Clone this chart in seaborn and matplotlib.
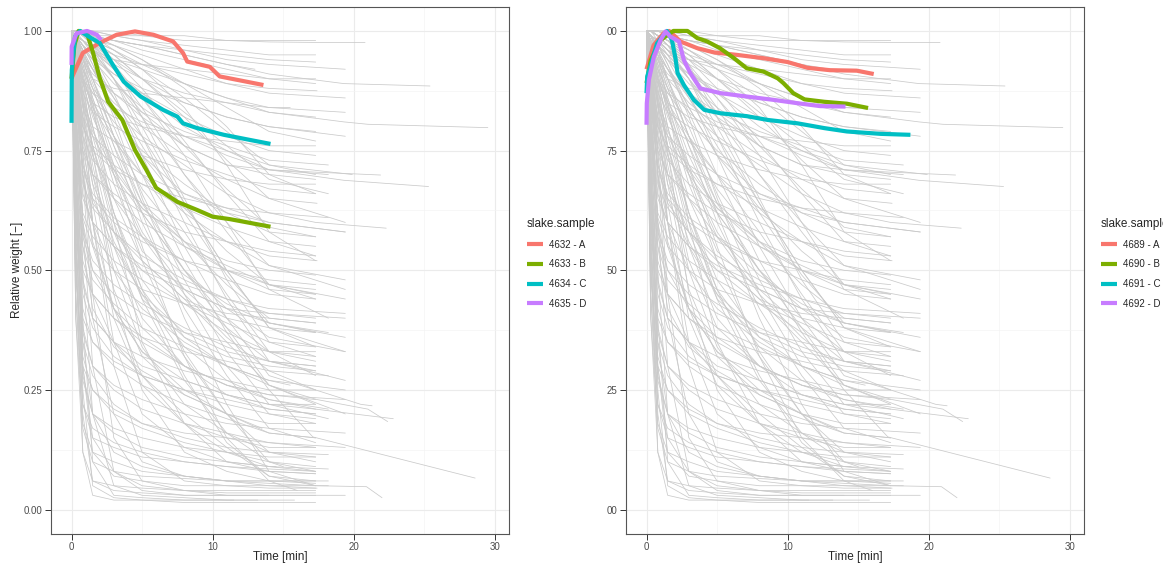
import pandas as pd
import seaborn as sns
import matplotlib.pyplot as plt
from matplotlib.lines import Line2D
from matplotlib.ticker import MultipleLocator

sns.set_theme(style="white")
plt.rcParams['font.family'] = ['Liberation Sans', 'DejaVu Sans']

# background curves (all samples): weights at the grid times, then end time and end weight
gray_t = [0, 0.3, 0.8, 1.5, 3, 5, 8, 11, 14]
gray_rows = [
    [1.0, 0.55, 0.12, 0.03, 0.02, 0.02, 0.015, 0.015, 0.015, 17.3, 0.015],
    [1.0, 0.7, 0.25, 0.05, 0.025, 0.02, 0.02, 0.02, 0.02, 13.2, 0.02],
    [1.0, 0.8, 0.4, 0.1, 0.03, 0.025, 0.02, 0.02, 0.02, 15.8, 0.02],
    [1.0, 0.9, 0.6, 0.3, 0.08, 0.04, 0.03, 0.03, 0.03, 17.3, 0.03],
    [1.0, 0.85, 0.5, 0.2, 0.05, 0.03, 0.025, 0.02, 0.02, 11.5, 0.02],
    [1.0, 0.95, 0.75, 0.45, 0.15, 0.06, 0.04, 0.035, 0.035, 17.3, 0.035],
    [1.0, 0.97, 0.85, 0.6, 0.3, 0.12, 0.06, 0.05, 0.045, 17.4, 0.045],
    [1.0, 0.6, 0.2, 0.06, 0.04, 0.035, 0.03, 0.03, 0.03, 19.4, 0.03],
    [1.0, 0.98, 0.9, 0.75, 0.45, 0.25, 0.12, 0.08, 0.06, 17.3, 0.06],
    [1.0, 0.99, 0.95, 0.85, 0.6, 0.35, 0.18, 0.1, 0.08, 17.3, 0.075],
    [1.0, 0.75, 0.3, 0.12, 0.07, 0.06, 0.05, 0.05, 0.05, 18.2, 0.05],
    [1.0, 0.5, 0.3, 0.25, 0.2, 0.17, 0.14, 0.12, 0.1, 17.3, 0.09],
    [1.0, 0.6, 0.4, 0.35, 0.3, 0.26, 0.22, 0.19, 0.16, 17.3, 0.15],
    [1.0, 0.7, 0.5, 0.45, 0.4, 0.35, 0.3, 0.26, 0.23, 18.2, 0.21],
    [1.0, 0.75, 0.58, 0.52, 0.47, 0.43, 0.38, 0.34, 0.31, 17.3, 0.3],
    [1.0, 0.8, 0.65, 0.6, 0.55, 0.5, 0.46, 0.42, 0.39, 19.4, 0.36],
    [1.0, 0.85, 0.72, 0.66, 0.61, 0.57, 0.52, 0.48, 0.45, 17.3, 0.44],
    [1.0, 0.88, 0.78, 0.73, 0.68, 0.64, 0.6, 0.56, 0.53, 17.4, 0.52],
    [1.0, 0.9, 0.82, 0.78, 0.74, 0.7, 0.66, 0.63, 0.6, 19.4, 0.58],
    [1.0, 0.93, 0.87, 0.83, 0.8, 0.77, 0.73, 0.7, 0.67, 17.3, 0.66],
    [1.0, 0.95, 0.9, 0.87, 0.84, 0.81, 0.78, 0.75, 0.72, 19.9, 0.7],
    [1.0, 0.55, 0.35, 0.28, 0.22, 0.18, 0.15, 0.13, 0.12, 18.2, 0.115],
    [1.0, 0.65, 0.45, 0.38, 0.32, 0.28, 0.25, 0.22, 0.2, 17.3, 0.19],
    [1.0, 0.72, 0.55, 0.48, 0.43, 0.38, 0.34, 0.3, 0.27, 15.5, 0.26],
    [1.0, 0.78, 0.62, 0.57, 0.52, 0.48, 0.43, 0.39, 0.35, 17.3, 0.34],
    [1.0, 0.82, 0.68, 0.63, 0.58, 0.53, 0.48, 0.44, 0.41, 17.3, 0.4],
    [1.0, 0.86, 0.75, 0.7, 0.65, 0.6, 0.55, 0.51, 0.47, 19.4, 0.44],
    [1.0, 0.89, 0.8, 0.76, 0.72, 0.68, 0.63, 0.59, 0.56, 17.3, 0.55],
    [1.0, 0.45, 0.22, 0.17, 0.14, 0.12, 0.1, 0.09, 0.08, 17.3, 0.075],
    [1.0, 0.5, 0.28, 0.2, 0.16, 0.13, 0.11, 0.1, 0.09, 14.5, 0.09],
    [1.0, 0.62, 0.38, 0.3, 0.25, 0.21, 0.18, 0.16, 0.14, 19.4, 0.13],
    [1.0, 0.68, 0.48, 0.4, 0.35, 0.3, 0.27, 0.24, 0.22, 17.3, 0.22],
    [1.0, 0.8, 0.6, 0.5, 0.42, 0.36, 0.3, 0.26, 0.24, 17.3, 0.23],
    [1.0, 0.85, 0.7, 0.6, 0.5, 0.42, 0.35, 0.3, 0.27, 19.4, 0.25],
    [1.0, 0.9, 0.78, 0.68, 0.58, 0.5, 0.43, 0.37, 0.33, 17.3, 0.32],
    [1.0, 0.92, 0.82, 0.74, 0.65, 0.57, 0.49, 0.43, 0.39, 18.2, 0.37],
    [1.0, 0.94, 0.86, 0.79, 0.71, 0.63, 0.56, 0.5, 0.46, 17.3, 0.45],
    [1.0, 0.96, 0.9, 0.84, 0.77, 0.7, 0.62, 0.56, 0.51, 19.4, 0.48],
    [1.0, 0.97, 0.92, 0.87, 0.81, 0.75, 0.68, 0.62, 0.58, 17.3, 0.57],
    [1.0, 0.98, 0.94, 0.9, 0.85, 0.8, 0.74, 0.69, 0.65, 17.4, 0.64],
    [1.0, 0.4, 0.18, 0.12, 0.1, 0.08, 0.07, 0.06, 0.06, 17.3, 0.055],
    [1.0, 0.99, 0.97, 0.93, 0.82, 0.65, 0.45, 0.3, 0.2, 17.3, 0.18],
    [1.0, 0.99, 0.98, 0.95, 0.87, 0.74, 0.55, 0.4, 0.28, 17.3, 0.25],
    [1.0, 1.0, 0.98, 0.96, 0.9, 0.8, 0.64, 0.5, 0.38, 19.4, 0.33],
    [1.0, 1.0, 0.99, 0.97, 0.92, 0.84, 0.7, 0.58, 0.47, 17.3, 0.44],
    [1.0, 1.0, 0.99, 0.98, 0.94, 0.88, 0.77, 0.66, 0.56, 17.3, 0.53],
    [1.0, 1.0, 0.99, 0.98, 0.95, 0.9, 0.82, 0.73, 0.65, 19.4, 0.6],
    [1.0, 1.0, 1.0, 0.99, 0.96, 0.92, 0.86, 0.79, 0.72, 17.3, 0.7],
    [1.0, 1.0, 1.0, 0.99, 0.97, 0.94, 0.89, 0.84, 0.79, 17.3, 0.77],
    [1.0, 0.98, 0.94, 0.88, 0.76, 0.6, 0.42, 0.28, 0.17, 17.3, 0.14],
    [1.0, 0.98, 0.95, 0.9, 0.8, 0.66, 0.48, 0.33, 0.22, 18.2, 0.19],
    [1.0, 0.97, 0.92, 0.85, 0.7, 0.52, 0.33, 0.2, 0.12, 17.3, 0.1],
    [1.0, 0.97, 0.9, 0.8, 0.62, 0.44, 0.27, 0.16, 0.1, 15.0, 0.09],
    [1.0, 0.99, 0.97, 0.94, 0.86, 0.76, 0.62, 0.49, 0.39, 17.3, 0.37],
    [1.0, 0.99, 0.98, 0.96, 0.9, 0.82, 0.7, 0.6, 0.51, 19.4, 0.46],
    [1.0, 1.0, 0.99, 0.97, 0.93, 0.86, 0.76, 0.67, 0.59, 17.3, 0.57],
    [1.0, 1.0, 0.99, 0.98, 0.95, 0.9, 0.83, 0.76, 0.69, 18.2, 0.66],
    [1.0, 0.99, 0.96, 0.9, 0.78, 0.64, 0.5, 0.4, 0.33, 17.3, 0.31],
    [1.0, 0.98, 0.93, 0.86, 0.74, 0.62, 0.5, 0.42, 0.36, 19.4, 0.33],
    [1.0, 0.99, 0.97, 0.93, 0.84, 0.74, 0.63, 0.54, 0.47, 17.3, 0.45],
    [1.0, 0.99, 0.95, 0.89, 0.78, 0.67, 0.56, 0.47, 0.4, 17.3, 0.39],
    [1.0, 0.98, 0.92, 0.84, 0.71, 0.58, 0.46, 0.38, 0.31, 17.3, 0.29],
    [1.0, 1.0, 0.99, 0.97, 0.9, 0.78, 0.6, 0.44, 0.31, 19.4, 0.27],
    [1.0, 1.0, 0.99, 0.98, 0.93, 0.82, 0.65, 0.48, 0.35, 17.3, 0.32],
    [1.0, 1.0, 1.0, 1.0, 0.99, 0.98, 0.97, 0.96, 0.95, 17.3, 0.95],
    [1.0, 1.0, 1.0, 0.99, 0.99, 0.98, 0.96, 0.94, 0.93, 19.4, 0.92],
    [1.0, 1.0, 0.99, 0.99, 0.98, 0.96, 0.94, 0.92, 0.9, 17.3, 0.89],
    [1.0, 1.0, 0.99, 0.98, 0.97, 0.95, 0.92, 0.89, 0.87, 19.4, 0.86],
    [1.0, 1.0, 0.99, 0.98, 0.96, 0.93, 0.89, 0.86, 0.83, 17.3, 0.82],
    [1.0, 0.99, 0.97, 0.95, 0.91, 0.87, 0.82, 0.78, 0.75, 17.3, 0.74],
    [1.0, 1.0, 1.0, 1.0, 1.0, 0.99, 0.99, 0.98, 0.98, 17.3, 0.98],
    [1.0, 1.0, 1.0, 0.99, 0.98, 0.97, 0.96, 0.95, 0.94, 17.3, 0.935],
    [1.0, 0.99, 0.98, 0.97, 0.95, 0.93, 0.91, 0.89, 0.88, 17.4, 0.875],
    [1.0, 0.98, 0.96, 0.94, 0.91, 0.88, 0.85, 0.82, 0.8, 19.4, 0.78],
    [1.0, 0.97, 0.94, 0.91, 0.87, 0.83, 0.79, 0.76, 0.73, 18.2, 0.72],
    [1.0, 1.0, 0.99, 0.99, 0.98, 0.97, 0.95, 0.93, 0.92, 13.0, 0.92],
    [1.0, 0.99, 0.98, 0.96, 0.94, 0.92, 0.89, 0.86, 0.84, 15.5, 0.84],
    [1.0, 0.99, 0.96, 0.9, 0.78, 0.62, 0.4, 0.22, 0.08, 17.3, 0.05],
    [1.0, 0.98, 0.93, 0.86, 0.72, 0.55, 0.32, 0.15, 0.06, 16.0, 0.04],
    [1.0, 0.95, 0.85, 0.76, 0.62, 0.46, 0.28, 0.14, 0.07, 17.3, 0.06],
    [1.0, 0.9, 0.75, 0.65, 0.55, 0.45, 0.32, 0.2, 0.1, 17.3, 0.08],
    [1.0, 0.88, 0.72, 0.64, 0.58, 0.52, 0.44, 0.35, 0.26, 17.3, 0.22],
    [1.0, 0.93, 0.84, 0.78, 0.7, 0.62, 0.5, 0.38, 0.26, 19.4, 0.2],
    [1.0, 0.96, 0.9, 0.85, 0.78, 0.7, 0.58, 0.45, 0.33, 17.3, 0.28],
    [1.0, 0.98, 0.95, 0.92, 0.86, 0.78, 0.64, 0.5, 0.38, 17.3, 0.34],
    [1.0, 0.99, 0.98, 0.96, 0.92, 0.86, 0.74, 0.6, 0.46, 18.2, 0.4],
    [1.0, 1.0, 0.99, 0.98, 0.96, 0.92, 0.84, 0.72, 0.58, 17.3, 0.52],
    [1.0, 1.0, 1.0, 0.99, 0.97, 0.94, 0.88, 0.8, 0.7, 17.3, 0.66],
    [1.0, 0.85, 0.6, 0.45, 0.35, 0.28, 0.2, 0.13, 0.07, 17.3, 0.05],
    [1.0, 0.8, 0.55, 0.42, 0.34, 0.29, 0.24, 0.2, 0.17, 13.5, 0.17],
    [1.0, 0.9, 0.7, 0.55, 0.42, 0.33, 0.25, 0.2, 0.16, 17.3, 0.15],
    [1.0, 0.7, 0.35, 0.2, 0.12, 0.09, 0.07, 0.06, 0.05, 17.3, 0.045],
    [1.0, 0.65, 0.3, 0.15, 0.08, 0.05, 0.04, 0.03, 0.03, 14.0, 0.03],
    [1.0, 0.99, 0.97, 0.95, 0.94, 0.93, 0.92, 0.91, 0.9, 17.3, 0.9],
    [1.0, 0.97, 0.93, 0.9, 0.88, 0.87, 0.86, 0.85, 0.84, 19.4, 0.83],
    [1.0, 0.95, 0.89, 0.85, 0.82, 0.8, 0.78, 0.77, 0.76, 17.3, 0.76],
    [1.0, 0.93, 0.85, 0.8, 0.77, 0.74, 0.71, 0.69, 0.68, 17.3, 0.68],
    [1.0, 0.9, 0.8, 0.75, 0.71, 0.68, 0.65, 0.63, 0.62, 18.2, 0.61],
    [1.0, 0.88, 0.76, 0.7, 0.66, 0.62, 0.58, 0.56, 0.54, 17.3, 0.53],
    [1.0, 0.85, 0.71, 0.65, 0.6, 0.56, 0.52, 0.5, 0.48, 17.3, 0.47],
    [1.0, 0.82, 0.66, 0.6, 0.55, 0.51, 0.47, 0.44, 0.42, 19.4, 0.41],
    [1.0, 0.8, 0.61, 0.55, 0.5, 0.46, 0.43, 0.41, 0.4, 17.3, 0.39],
    [1.0, 0.78, 0.57, 0.5, 0.45, 0.41, 0.37, 0.35, 0.33, 17.3, 0.33],
    [1.0, 0.74, 0.52, 0.45, 0.4, 0.36, 0.33, 0.31, 0.29, 18.2, 0.28],
    [1.0, 0.7, 0.47, 0.4, 0.35, 0.32, 0.29, 0.27, 0.25, 17.3, 0.25],
    [1.0, 0.66, 0.42, 0.35, 0.31, 0.28, 0.25, 0.23, 0.21, 17.3, 0.2],
    [1.0, 0.62, 0.37, 0.3, 0.26, 0.23, 0.2, 0.18, 0.17, 19.4, 0.16],
    [1.0, 0.58, 0.32, 0.25, 0.21, 0.18, 0.16, 0.15, 0.14, 17.3, 0.13],
    [1.0, 0.54, 0.27, 0.2, 0.17, 0.15, 0.13, 0.12, 0.11, 17.3, 0.11],
    [1.0, 0.5, 0.22, 0.15, 0.13, 0.11, 0.1, 0.09, 0.085, 17.3, 0.08],
    [1.0, 0.45, 0.17, 0.1, 0.08, 0.07, 0.065, 0.06, 0.06, 18.2, 0.06],
    [1.0, 0.4, 0.12, 0.06, 0.05, 0.045, 0.04, 0.04, 0.04, 17.3, 0.04],
    [1.0, 0.97, 0.9, 0.8, 0.65, 0.52, 0.44, 0.4, 0.38, 17.3, 0.37],
    [1.0, 0.96, 0.88, 0.76, 0.58, 0.44, 0.36, 0.32, 0.3, 17.3, 0.29],
    [1.0, 0.95, 0.85, 0.72, 0.52, 0.38, 0.3, 0.26, 0.24, 19.4, 0.23],
    [1.0, 0.94, 0.82, 0.68, 0.46, 0.32, 0.24, 0.2, 0.18, 17.3, 0.18],
    [1.0, 0.93, 0.8, 0.64, 0.4, 0.26, 0.18, 0.15, 0.13, 17.3, 0.13],
    [1.0, 0.92, 0.78, 0.6, 0.35, 0.2, 0.13, 0.1, 0.09, 18.2, 0.085],
    [1.0, 0.98, 0.94, 0.88, 0.76, 0.64, 0.56, 0.52, 0.5, 17.3, 0.49],
    [1.0, 0.99, 0.96, 0.92, 0.84, 0.74, 0.66, 0.62, 0.6, 19.4, 0.58],
    [1.0, 0.99, 0.97, 0.95, 0.9, 0.83, 0.76, 0.72, 0.7, 17.3, 0.69],
    [1.0, 1.0, 0.99, 0.97, 0.94, 0.9, 0.85, 0.82, 0.8, 17.3, 0.79],
    [1.0, 0.97, 0.91, 0.83, 0.68, 0.54, 0.46, 0.42, 0.41, 19.4, 0.4],
    [1.0, 0.96, 0.87, 0.74, 0.55, 0.4, 0.3, 0.24, 0.21, 17.3, 0.2],
    [1.0, 0.95, 0.84, 0.7, 0.5, 0.34, 0.22, 0.16, 0.12, 17.3, 0.11],
    [1.0, 0.9, 0.74, 0.6, 0.42, 0.28, 0.18, 0.12, 0.09, 17.3, 0.08],
    [1.0, 0.99, 0.98, 0.96, 0.92, 0.87, 0.8, 0.75, 0.71, 18.2, 0.7],
    [1.0, 0.96, 0.89, 0.82, 0.72, 0.63, 0.55, 0.5, 0.47, 17.3, 0.46],
    [1.0, 0.93, 0.81, 0.7, 0.56, 0.45, 0.37, 0.33, 0.31, 17.3, 0.3],
    [1.0, 0.88, 0.7, 0.56, 0.42, 0.33, 0.27, 0.24, 0.22, 17.3, 0.21],
]

# the few curves that run past 20 min
long_t = [
    [0, 0.3, 0.8, 1.5, 3, 5, 8, 11, 14, 17.1, 28.6],
    [0, 0.3, 0.8, 1.5, 3, 5, 8, 11, 14, 17.3, 20.9, 22.0],
    [0, 0.3, 0.8, 1.5, 3, 5, 8, 11, 14, 17.4, 21.0, 22.4],
    [0, 0.3, 0.8, 1.5, 3, 5, 8, 11, 14, 17.3, 20.0, 22.8],
    [0, 0.3, 0.8, 1.5, 3, 5, 8, 11, 14, 17.3, 20.5, 21.3],
    [0, 0.3, 0.8, 1.5, 3, 5, 8, 11, 14, 19.3, 21.0, 29.5],
    [0, 0.3, 0.8, 1.5, 3, 5, 8, 11, 14, 19.3, 25.4],
    [0, 0.3, 0.8, 1.5, 3, 5, 8, 11, 14, 19.3, 25.3],
    [0, 0.3, 0.8, 1.5, 3, 5, 8, 11, 14, 17.3, 21.9],
    [0, 0.3, 0.8, 1.5, 3, 5, 8, 11, 14, 17.3, 22.3],
    [0, 0.3, 0.8, 1.5, 3, 5, 8, 11, 14, 17.3, 20.8],
]
long_w = [
    [1.0, 0.99, 0.96, 0.92, 0.83, 0.7, 0.52, 0.37, 0.25, 0.152, 0.066],
    [1.0, 0.92, 0.7, 0.4, 0.2, 0.1, 0.07, 0.06, 0.055, 0.05, 0.048, 0.025],
    [1.0, 0.96, 0.88, 0.78, 0.62, 0.48, 0.36, 0.3, 0.26, 0.23, 0.21, 0.184],
    [1.0, 0.95, 0.86, 0.76, 0.6, 0.46, 0.34, 0.27, 0.23, 0.21, 0.2, 0.19],
    [1.0, 0.97, 0.91, 0.83, 0.7, 0.57, 0.45, 0.36, 0.29, 0.25, 0.22, 0.217],
    [1.0, 0.99, 0.98, 0.96, 0.93, 0.9, 0.87, 0.85, 0.83, 0.81, 0.805, 0.798],
    [1.0, 1.0, 1.0, 0.99, 0.98, 0.97, 0.95, 0.93, 0.91, 0.89, 0.885],
    [1.0, 0.99, 0.97, 0.94, 0.89, 0.84, 0.78, 0.74, 0.71, 0.688, 0.675],
    [1.0, 0.98, 0.95, 0.92, 0.87, 0.82, 0.76, 0.72, 0.71, 0.705, 0.699],
    [1.0, 0.96, 0.92, 0.88, 0.83, 0.78, 0.72, 0.66, 0.62, 0.6, 0.588],
    [1.0, 1.0, 1.0, 1.0, 0.99, 0.99, 0.98, 0.98, 0.977, 0.976, 0.976],
]

# highlighted samples, left panel
left_labels = ["4632 - A", "4633 - B", "4634 - C", "4635 - D"]
left_t = [
    [0, 0.8, 2.0, 3.2, 4.5, 5.8, 7.2, 7.9, 8.2, 9.8, 10.5, 12.4, 13.6],
    [0, 0.2, 0.5, 1.1, 1.5, 2.0, 2.6, 3.6, 4.5, 5.3, 6.0, 7.5, 8.9, 10.0, 11.2, 14.1],
    [0, 0.02, 0.25, 0.6, 1.4, 2.0, 2.85, 3.7, 4.9, 6.5, 7.5, 7.9, 8.9, 10.8, 12.7, 14.1],
    [0, 0.01, 0.35, 1.1, 1.8, 2.1],
]
left_w = [
    [0.901, 0.954, 0.975, 0.992, 0.999, 0.992, 0.978, 0.954, 0.936, 0.925, 0.905, 0.894, 0.887],
    [0.9, 0.97, 1.0, 0.995, 0.957, 0.902, 0.852, 0.814, 0.751, 0.71, 0.672, 0.643, 0.626, 0.612, 0.607, 0.591],
    [0.808, 0.918, 0.988, 1.0, 0.985, 0.975, 0.933, 0.894, 0.863, 0.835, 0.821, 0.807, 0.797, 0.783, 0.772, 0.764],
    [0.929, 0.967, 0.995, 1.0, 0.992, 0.981],
]

# highlighted samples, right panel
right_labels = ["4689 - A", "4690 - B", "4691 - C", "4692 - D"]
right_t = [
    [0, 0.5, 1.2, 1.6, 2.05, 2.4, 3.6, 4.8, 6.4, 8.3, 10.0, 11.4, 13.0, 14.9, 16.1],
    [0, 0.3, 1.0, 1.9, 2.9, 3.6, 4.3, 5.2, 6.2, 7.1, 8.3, 9.3, 9.7, 10.4, 11.2, 12.6, 14.2, 15.7],
    [0, 0.05, 0.75, 1.45, 1.8, 2.05, 2.2, 2.65, 3.35, 4.1, 5.25, 7.1, 8.6, 10.7, 12.6, 14.2, 16.6, 18.7],
    [0, 0.02, 0.17, 0.52, 1.0, 1.35, 1.7, 2.3, 2.65, 3.1, 3.8, 5.25, 7.1, 9.0, 10.7, 12.3, 14.1],
]
right_w = [
    [0.92, 0.97, 0.995, 1.0, 0.988, 0.978, 0.964, 0.955, 0.95, 0.943, 0.935, 0.923, 0.918, 0.917, 0.91],
    [0.891, 0.939, 0.981, 1.0, 1.0, 0.985, 0.978, 0.964, 0.943, 0.922, 0.915, 0.901, 0.891, 0.87, 0.857, 0.852, 0.848, 0.839],
    [0.87, 0.905, 0.974, 1.0, 0.981, 0.943, 0.912, 0.887, 0.856, 0.835, 0.828, 0.822, 0.814, 0.807, 0.797, 0.79, 0.785, 0.783],
    [0.804, 0.849, 0.898, 0.946, 0.981, 0.999, 0.988, 0.978, 0.939, 0.912, 0.88, 0.87, 0.863, 0.856, 0.849, 0.843, 0.842],
]

colors = ["#F8766D", "#7CAE00", "#00BFC4", "#C77CFF"]
left_ticklabels = ["0.00", "0.25", "0.50", "0.75", "1.00"]
right_ticklabels = ["00", "25", "50", "75", "00"]

# long table of the gray background curves
recs = []
for i, row in enumerate(gray_rows):
    end_t, end_w = row[9], row[10]
    for t, w in zip(gray_t, row[:9]):
        if t < end_t:
            recs.append((i, t, w))
    recs.append((i, end_t, end_w))
for j, (ts, ws) in enumerate(zip(long_t, long_w)):
    for t, w in zip(ts, ws):
        recs.append((len(gray_rows) + j, t, w))
gray_df = pd.DataFrame(recs, columns=["id", "t", "w"])


def highlight_df(labels, ts, ws):
    out = []
    for lab, tt, ww in zip(labels, ts, ws):
        for t, w in zip(tt, ww):
            out.append((lab, t, w))
    return pd.DataFrame(out, columns=["slake.sample", "t", "w"])


W, H = 1163, 564
fig = plt.figure(figsize=(W / 100, H / 100), dpi=100)
ax1 = fig.add_axes([50.7 / W, 30.4 / H, 458.3 / W, 526.6 / H])
ax2 = fig.add_axes([625.7 / W, 30.4 / H, 458.3 / W, 526.6 / H])

panels = [
    (ax1, left_labels, left_t, left_w, left_ticklabels, 527),
    (ax2, right_labels, right_t, right_w, right_ticklabels, 1101),
]

for ax, labels, ts, ws, yt, leg_x in panels:
    ax.set_axisbelow(True)
    sns.lineplot(data=gray_df, x="t", y="w", units="id", estimator=None,
                 color="#CACACA", linewidth=0.55, ax=ax, legend=False)
    hdf = highlight_df(labels, ts, ws)
    sns.lineplot(data=hdf, x="t", y="w", hue="slake.sample", palette=colors,
                 estimator=None, sort=False, linewidth=3.0, ax=ax, legend=False,
                 solid_capstyle="butt", solid_joinstyle="round")

    ax.set_xlim(-1.475, 31.0)
    ax.set_ylim(-0.05, 1.05)
    ax.xaxis.set_major_locator(MultipleLocator(10))
    ax.xaxis.set_minor_locator(MultipleLocator(5))
    ax.yaxis.set_major_locator(MultipleLocator(0.25))
    ax.yaxis.set_minor_locator(MultipleLocator(0.125))
    ax.set_yticks([0, 0.25, 0.5, 0.75, 1.0])
    ax.set_yticklabels(yt)
    ax.grid(which="major", color="#EBEBEB", linewidth=0.8)
    ax.grid(which="minor", color="#F3F3F3", linewidth=0.45)
    ax.tick_params(which="major", length=4, width=0.7, color="#333333",
                   labelsize=7, labelcolor="#4D4D4D", pad=2,
                   bottom=True, left=True)
    ax.tick_params(which="minor", length=0)
    for sp in ax.spines.values():
        sp.set_color("#555555")
        sp.set_linewidth(0.8)
    ax.set_xlabel("Time [min]", fontsize=8.5, va="center")
    ax.xaxis.set_label_coords(0.5, -0.045)
    ax.set_ylabel("")

    handles = [Line2D([0], [0], color=c, lw=3.0, solid_capstyle="butt") for c in colors]
    ax.legend(handles, labels, title="slake.sample", loc="upper left",
              bbox_to_anchor=(leg_x / W, 1 - 218 / H), bbox_transform=fig.transFigure,
              frameon=False, fontsize=7, title_fontsize=8.5, handlelength=1.6,
              handletextpad=0.7, labelspacing=1.0, borderpad=0, borderaxespad=0,
              alignment="left")

ax1.set_ylabel("Relative weight [\u2212]", fontsize=8.5, va="center")
ax1.yaxis.set_label_coords(-0.073, 0.5)

fig.savefig("out.png", dpi=100)
